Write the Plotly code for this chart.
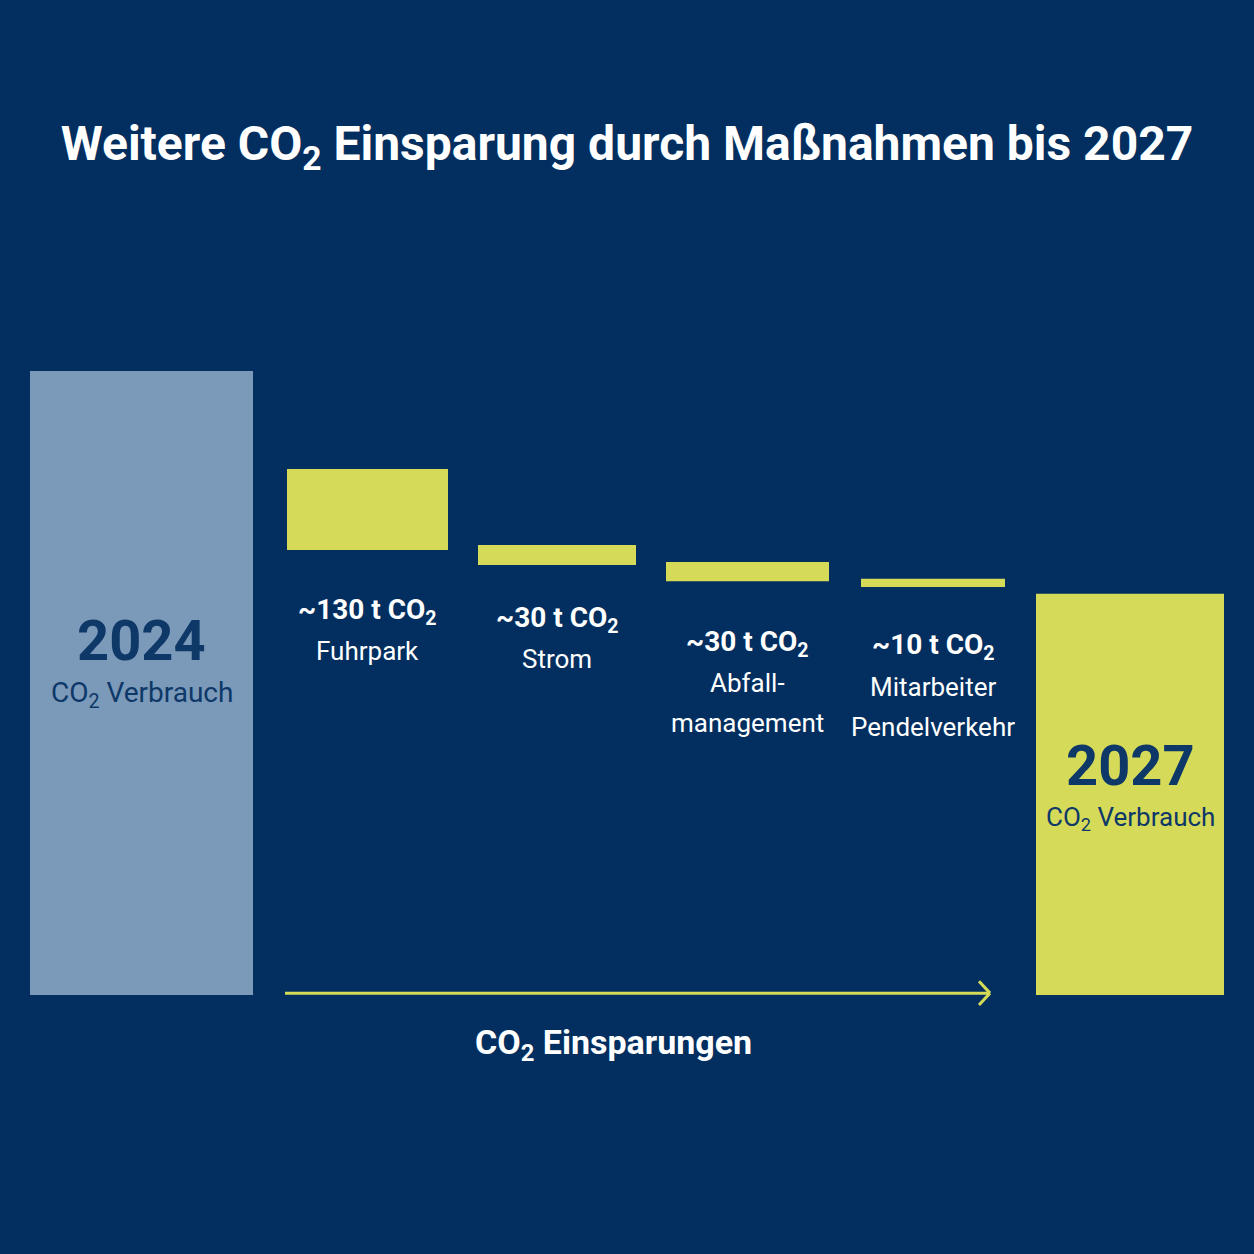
import plotly.graph_objects as go

# ---- data (tonnes CO2; 2024 total scaled to 1000) ----
categories = ["2024", "Fuhrpark", "Strom", "Abfallmanagement", "Mitarbeiter Pendelverkehr", "2027"]
start_value = 1000
end_value = 643
saving_labels = ["~130 t CO<sub>2</sub>", "~30 t CO<sub>2</sub>", "~30 t CO<sub>2</sub>", "~10 t CO<sub>2</sub>"]
saving_names = [["Fuhrpark"], ["Strom"], ["Abfall-", "management"], ["Mitarbeiter", "Pendelverkehr"]]
saving_base = [713, 689, 663, 654]
saving_height = [130, 32, 31, 13]

# ---- layout (positions / styles) ----
x_center = [141.5, 367.5, 557, 747.5, 933, 1130]
x_width = [223, 161, 158, 163, 144, 188]
label_gap = [61, 54, 62, 60]   # px from bar bottom to first label line
line_gap = 40
BG = "#022f60"
BLUE = "#7b99b8"
YEL = "#d5da58"
DARK = "#0d3868"
FONT = "Roboto"

fig = go.Figure()
fig.add_trace(go.Bar(x=[x_center[0]], y=[start_value], base=[0], width=[x_width[0]],
                     marker=dict(color=BLUE, line=dict(width=0)), hoverinfo="skip"))
fig.add_trace(go.Bar(x=x_center[1:5], y=saving_height, base=saving_base, width=x_width[1:5],
                     marker=dict(color=YEL, line=dict(width=0)), hoverinfo="skip"))
fig.add_trace(go.Bar(x=[x_center[5]], y=[end_value], base=[0], width=[x_width[5]],
                     marker=dict(color=YEL, line=dict(width=0)), hoverinfo="skip"))

ann = []
# saving labels under bars
for i in range(4):
    ann.append(dict(x=x_center[i + 1], y=saving_base[i], yref="y", xref="x",
                    text=f"<b>{saving_labels[i]}</b>", showarrow=False,
                    yanchor="middle", yshift=-label_gap[i],
                    font=dict(family=FONT, size=28, color="white")))
    for j, name in enumerate(saving_names[i]):
        ann.append(dict(x=x_center[i + 1], y=saving_base[i], yref="y", xref="x",
                        text=name, showarrow=False, yanchor="middle",
                        yshift=-label_gap[i] - line_gap * (j + 1),
                        font=dict(family=FONT, size=26, color="white")))

# 2024 / 2027 labels
ann.append(dict(x=x_center[0], y=start_value * 0.567, xref="x", yref="y",
                text="<b>2024</b>", showarrow=False, font=dict(family=FONT, size=56, color=DARK)))
ann.append(dict(x=x_center[0], y=start_value * 0.482, xref="x", yref="y",
                text="CO<sub>2</sub> Verbrauch", showarrow=False,
                font=dict(family=FONT, size=28, color=DARK)))
ann.append(dict(x=x_center[5], y=end_value * 0.571, xref="x", yref="y",
                text="<b>2027</b>", showarrow=False, font=dict(family=FONT, size=56, color=DARK)))
ann.append(dict(x=x_center[5], y=end_value * 0.44, xref="x", yref="y",
                text="CO<sub>2</sub> Verbrauch", showarrow=False,
                font=dict(family=FONT, size=26, color=DARK)))

# axis label under arrow
ann.append(dict(x=613, y=-80, xref="x", yref="y",
                text="<b>CO<sub>2</sub> Einsparungen</b>", showarrow=False,
                font=dict(family=FONT, size=34, color="white")))

# arrow along bottom
ax0 = x_center[1] - x_width[1] / 2 - 2
ax1 = x_center[4] + x_width[4] / 2 - 15
ay = 3
shapes = [
    dict(type="line", xref="x", yref="y", x0=ax0, x1=ax1, y0=ay, y1=ay,
         line=dict(color=YEL, width=3)),
    dict(type="line", xref="x", yref="y", x0=ax1 - 11, x1=ax1, y0=ay + 19, y1=ay,
         line=dict(color=YEL, width=3)),
    dict(type="line", xref="x", yref="y", x0=ax1 - 11, x1=ax1, y0=ay - 19, y1=ay,
         line=dict(color=YEL, width=3)),
]

fig.update_layout(
    width=1254, height=1254,
    paper_bgcolor=BG, plot_bgcolor=BG,
    margin=dict(l=0, r=0, t=0, b=0),
    showlegend=False,
    barmode="overlay",
    title=dict(text="<b>Weitere CO<sub>2</sub> Einsparung durch Maßnahmen bis 2027</b>",
               x=0.5, xanchor="center", y=1 - 143 / 1254, yanchor="middle",
               font=dict(family=FONT, size=48, color="white")),
    xaxis=dict(range=[0, 1254], visible=False, fixedrange=True),
    yaxis=dict(range=[-259 / 0.624, 995 / 0.624], visible=False, fixedrange=True),
    annotations=ann,
    shapes=shapes,
)

fig.write_html("out.html")
